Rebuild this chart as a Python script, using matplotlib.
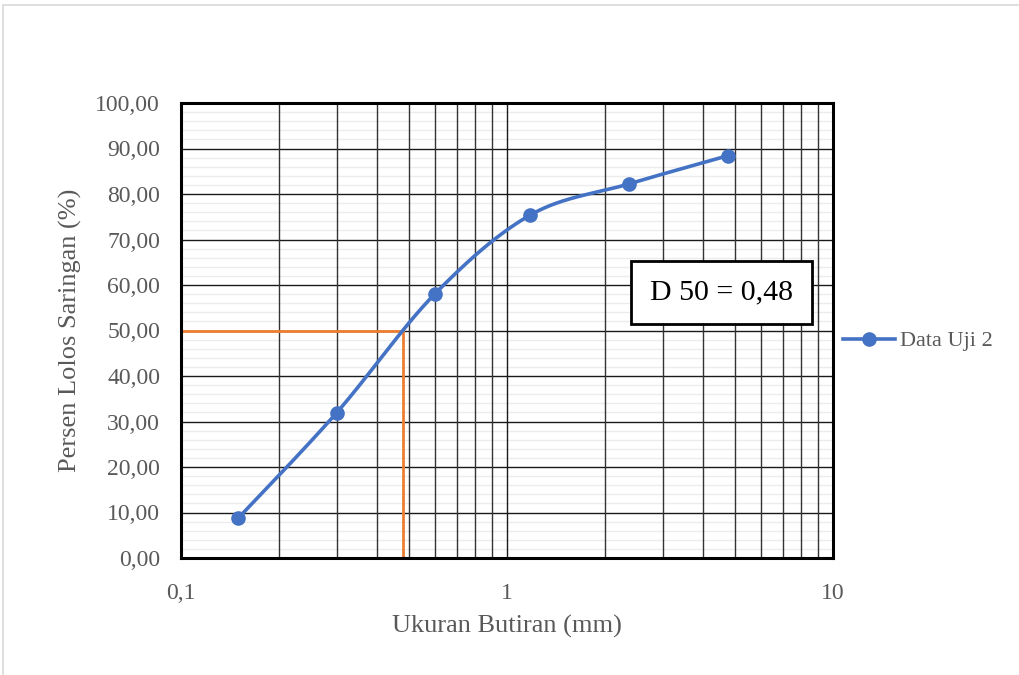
import numpy as np
import matplotlib.pyplot as plt
from matplotlib.ticker import FixedLocator, MultipleLocator, FuncFormatter, NullFormatter
from matplotlib.patches import Rectangle

plt.rcParams['font.family'] = ['Liberation Serif', 'DejaVu Serif']

# data
ukuran = [0.15, 0.3, 0.6, 1.18, 2.36, 4.75]
persen = [8.8, 31.9, 58.0, 75.4, 82.2, 88.4]
d50 = 0.48
label_seri = 'Data Uji 2'

blue = '#4472C4'
orange = '#ED7D31'
grey = '#595959'


def smooth(xs, ys, n=40):
    # Excel-like smoothed line (cardinal spline in log-x space)
    lx = np.log10(xs)
    ly = np.array(ys, dtype=float)
    P = np.column_stack([lx, ly])
    out = []
    for i in range(len(P) - 1):
        p0 = P[i - 1] if i > 0 else P[i]
        p1 = P[i]
        p2 = P[i + 1]
        p3 = P[i + 2] if i + 2 < len(P) else P[i + 1]
        c1 = p1 + (p2 - p0) / 6
        c2 = p2 - (p3 - p1) / 6
        t = np.linspace(0, 1, n)[:, None]
        seg = ((1 - t) ** 3) * p1 + 3 * ((1 - t) ** 2) * t * c1 + 3 * (1 - t) * t ** 2 * c2 + t ** 3 * p2
        out.append(seg)
    pts = np.vstack(out)
    return 10 ** pts[:, 0], pts[:, 1]


fig = plt.figure(figsize=(10.2, 6.75), dpi=100)
fig.patches.append(Rectangle((0.003, -0.1), 1.2, 1.092, transform=fig.transFigure,
                             fill=False, edgecolor='#d9d9d9', linewidth=1.2))

ax = fig.add_axes([181 / 1020, 1 - 558 / 675, 652 / 1020, 455 / 675])
ax.set_xscale('log')
ax.set_xlim(0.1, 10)
ax.set_ylim(0, 100)

ax.yaxis.set_major_locator(MultipleLocator(10))
ax.yaxis.set_minor_locator(MultipleLocator(2))
ax.yaxis.set_major_formatter(FuncFormatter(lambda v, p: f'{v:.2f}'.replace('.', ',')))
ax.xaxis.set_major_locator(FixedLocator([0.1, 1, 10]))
ax.xaxis.set_major_formatter(FuncFormatter(lambda v, p: ('%g' % v).replace('.', ',')))
ax.xaxis.set_minor_formatter(NullFormatter())

# grid: light minor horizontals below, dark lines on top
for v in np.arange(2, 100, 2):
    if v % 10:
        ax.axhline(v, color='#ececec', linewidth=1.0, zorder=0.5)
for v in np.arange(10, 100, 10):
    ax.axhline(v, color='#1a1a1a', linewidth=1.0, zorder=1)
for d in [0.1, 1]:
    for m in range(2, 10):
        ax.axvline(d * m, color='#333333', linewidth=1.0, zorder=1)
ax.axvline(1, color='#1a1a1a', linewidth=1.0, zorder=1)

ax.tick_params(which='both', length=0, labelsize=17, labelcolor=grey)
ax.tick_params(axis='y', pad=15)
ax.tick_params(axis='x', pad=18)
for s in ax.spines.values():
    s.set_linewidth(2.2)
    s.set_color('black')
    s.set_zorder(7)

# D50 guide lines
ax.plot([0.1, d50], [50, 50], color=orange, linewidth=2, zorder=3, clip_on=False)
ax.plot([d50, d50], [0, 50], color=orange, linewidth=2, zorder=3)

sx, sy = smooth(ukuran, persen)
ax.plot(sx, sy, color=blue, linewidth=2.6, zorder=4, solid_capstyle='round')
ax.plot(ukuran, persen, 'o', color=blue, markersize=9.5, zorder=5)

# legend
ax.plot([], [], color=blue, linewidth=2.6, marker='o', markersize=9.5, label=label_seri)
h, l = ax.get_legend_handles_labels()
leg = fig.legend(h[-1:], l[-1:], loc='center left', bbox_to_anchor=(823 / 1020, 1 - 341 / 675),
                 frameon=False, fontsize=16, handlelength=2.35, handletextpad=0.2)
for t in leg.get_texts():
    t.set_color(grey)

ax.text(0.829, 0.584, 'D 50 = ' + ('%g' % d50).replace('.', ','), transform=ax.transAxes,
        ha='center', va='center', fontsize=21.5, zorder=6,
        bbox=dict(boxstyle='square,pad=0.62', facecolor='white', edgecolor='black', linewidth=2))

ax.set_xlabel('Ukuran Butiran (mm)', fontsize=19, color=grey, labelpad=8)
ax.set_ylabel('Persen Lolos Saringan (%)', fontsize=19, color=grey, labelpad=10)

fig.savefig('out.png', dpi=100)
